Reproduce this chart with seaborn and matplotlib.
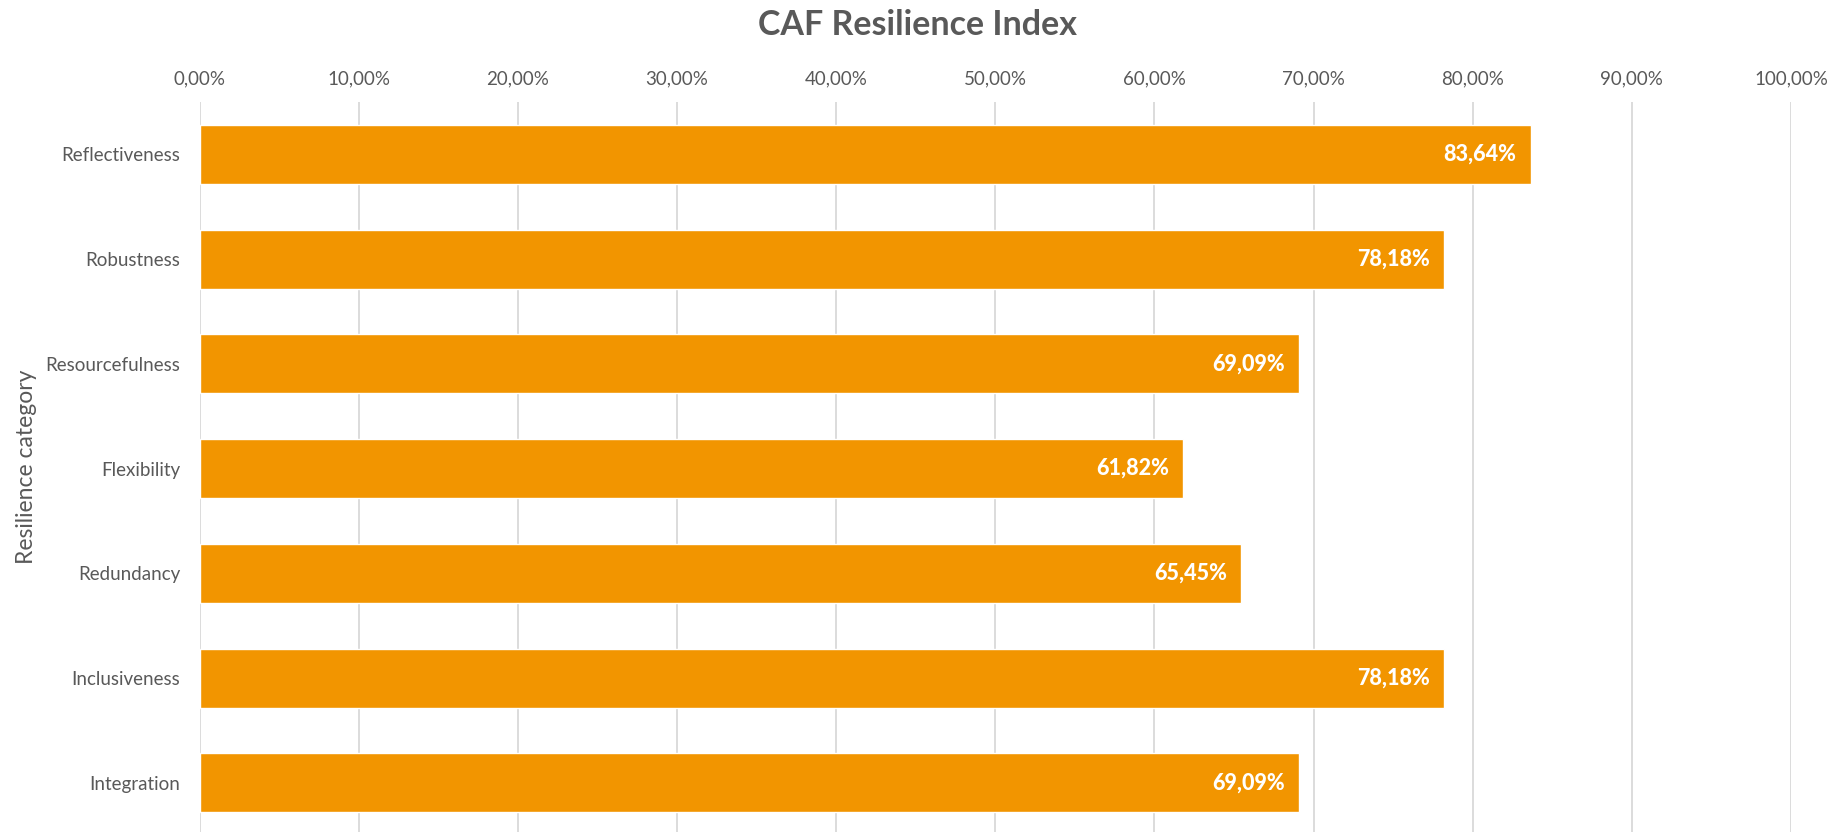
import matplotlib
matplotlib.use("Agg")
import matplotlib.pyplot as plt
import seaborn as sns
import pandas as pd
from matplotlib.ticker import FuncFormatter

categories = ["Reflectiveness", "Robustness", "Resourcefulness", "Flexibility",
              "Redundancy", "Inclusiveness", "Integration"]
values = [83.64, 78.18, 69.09, 61.82, 65.45, 78.18, 69.09]
x_ticks = [0, 10, 20, 30, 40, 50, 60, 70, 80, 90, 100]

df = pd.DataFrame({"category": categories, "value": values})

sns.set_theme(style="white")
plt.rcParams['font.family'] = ['Lato', 'DejaVu Sans']

TEXT = "#595959"
BAR = "#F29500"
GRID = "#D9D9D9"

fig = plt.figure(figsize=(18.46, 8.32), dpi=100)
ax = fig.add_axes([0.1081, 0.0, 0.9702 - 0.1081, (832 - 102) / 832])

sns.barplot(data=df, x="value", y="category", orient="h", color=BAR,
            width=0.563, saturation=1, ax=ax, zorder=3)

ax.set_xlim(0, 100)
ax.set_ylim(6.47, -0.5)
ax.set_xticks(x_ticks)
ax.xaxis.set_major_formatter(FuncFormatter(lambda v, p: f"{v:.2f}%".replace(".", ",")))
ax.xaxis.tick_top()
ax.tick_params(axis="x", length=0, pad=10.5, labelsize=13.5, colors=TEXT)
ax.tick_params(axis="y", length=0, pad=14, labelsize=13.5, colors=TEXT)
ax.grid(axis="x", color=GRID, linewidth=1.3, zorder=0)
for s in ax.spines.values():
    s.set_visible(False)

ax.set_xlabel("")
ax.set_ylabel("Resilience category", fontsize=16.5, color=TEXT)
ax.yaxis.set_label_coords(-0.1021, 0.5)

for i, v in enumerate(values):
    ax.text(v - 0.9, i, f"{v:.2f}%".replace(".", ","), ha="right", va="center",
            color="white", fontsize=15.5, fontweight=900, zorder=4)

fig.text(0.4968, 1 - 25 / 832, "CAF Resilience Index", ha="center", va="center",
         fontsize=24.5, fontweight="bold", color=TEXT)

fig.savefig("out.png", dpi=100)
